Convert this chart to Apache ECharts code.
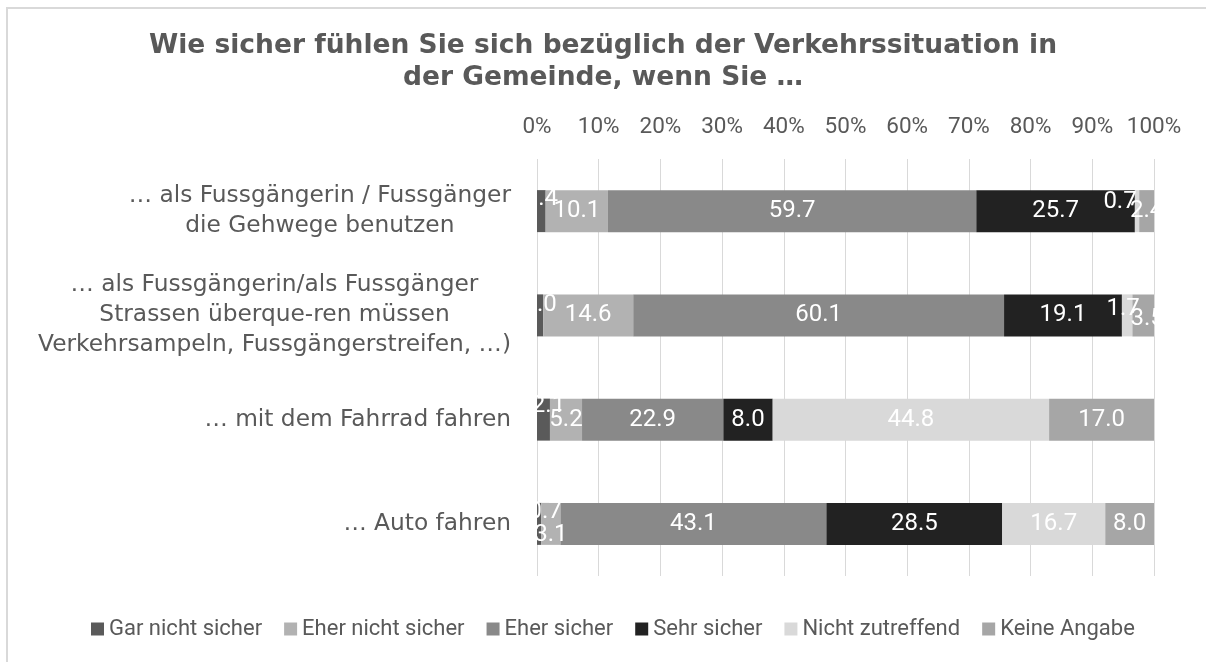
<!DOCTYPE html>
<html>
<head>
<meta charset="utf-8">
<title>Verkehrssituation</title>
<script src="https://cdn.jsdelivr.net/npm/echarts@6/dist/echarts.min.js"></script>
<style>
  html, body { margin: 0; padding: 0; background: #fff; }
  #chart { width: 1206px; height: 662px; }
</style>
</head>
<body>
<div id="chart"></div>
<script>
// Kategorien (von oben nach unten)
const categories = [
  '… als Fussgängerin / Fussgänger\ndie Gehwege benutzen',
  '… als Fussgängerin/als Fussgänger\nStrassen überque-ren müssen\nVerkehrsampeln, Fussgängerstreifen, …)',
  '… mit dem Fahrrad fahren',
  '… Auto fahren'
];

// Werte in Prozent
const garNichtSicher  = [1.4, 1.0, 2.1, 0.7];
const eherNichtSicher = [10.1, 14.6, 5.2, 3.1];
const eherSicher      = [59.7, 60.1, 22.9, 43.1];
const sehrSicher      = [25.7, 19.1, 8.0, 28.5];
const nichtZutreffend = [0.7, 1.7, 44.8, 16.7];
const keineAngabe     = [2.4, 3.5, 17.0, 8.0];

const seriesNames = ['Gar nicht sicher', 'Eher nicht sicher', 'Eher sicher', 'Sehr sicher', 'Nicht zutreffend', 'Keine Angabe'];
const seriesValues = [garNichtSicher, eherNichtSicher, eherSicher, sehrSicher, nichtZutreffend, keineAngabe];
const colors = ['#5a5a5a', '#b2b2b2', '#898989', '#222222', '#d9d9d9', '#a6a6a6'];

// Excel schiebt kleine Beschriftungen auseinander -> Versatz [x, y] je Serie/Zeile
const labelShift = {
  '0-0': [0, -12], '0-1': [0, -10], '0-2': [5, -14], '0-3': [6, -12],
  '1-3': [0, 11],
  '4-0': [-17, -9], '4-1': [-4, -6],
  '5-1': [4, 4]
};

const textGray = '#595959';

let myChart = echarts.init(document.getElementById('chart'));

let option = {
  animation: false,
  title: {
    text: 'Wie sicher fühlen Sie sich bezüglich der Verkehrssituation in\nder Gemeinde, wenn Sie …',
    left: 'center',
    top: 30,
    padding: [0, 0, 0, 16],
    textStyle: {
      fontFamily: 'DejaVu Sans',
      fontWeight: 'bold',
      fontSize: 26.5,
      lineHeight: 32,
      color: textGray
    }
  },
  graphic: [{ // Rahmen
    type: 'rect',
    silent: true,
    z: -10,
    shape: { x: 7, y: 8, width: 1230, height: 700 },
    style: { fill: 'none', stroke: '#d9d9d9', lineWidth: 2 }
  }],
  legend: {
    data: seriesNames,
    left: 86,
    top: 613,
    icon: 'rect',
    itemWidth: 13,
    itemHeight: 13,
    itemGap: 22,
    textStyle: { fontFamily: 'Roboto', fontSize: 22, color: textGray }
  },
  grid: { left: 537, right: 52, top: 159, bottom: 86 },
  xAxis: {
    type: 'value',
    position: 'top',
    min: 0,
    max: 100,
    interval: 10,
    axisLine: { show: false },
    axisTick: { show: false },
    axisLabel: {
      formatter: '{value}%',
      margin: 20,
      fontFamily: 'Roboto',
      fontSize: 22.5,
      color: textGray
    },
    splitLine: { lineStyle: { color: '#d9d9d9', width: 1 } }
  },
  yAxis: {
    type: 'category',
    inverse: true,
    data: categories,
    axisLine: { show: false },
    axisTick: { show: false },
    axisLabel: {
      margin: 26,
      formatter: function (val) {
        return val.split('\n').map(l => '{c|' + l + '}').join('\n');
      },
      rich: {
        c: { align: 'center', fontFamily: 'DejaVu Sans', fontSize: 23.3, lineHeight: 30, color: textGray }
      }
    }
  },
  series: seriesNames.map((name, s) => ({
    name: name,
    type: 'bar',
    stack: 'total',
    barWidth: 42,
    itemStyle: { color: colors[s] },
    label: {
      show: true,
      position: 'inside',
      color: '#fff',
      fontFamily: 'Roboto',
      fontSize: 24,
      formatter: p => p.value.toFixed(1)
    },
    data: seriesValues[s].map((v, i) => {
      let shift = labelShift[s + '-' + i];
      return shift ? { value: v, label: { offset: shift } } : v;
    })
  }))
};

myChart.setOption(option);
</script>
</body>
</html>
